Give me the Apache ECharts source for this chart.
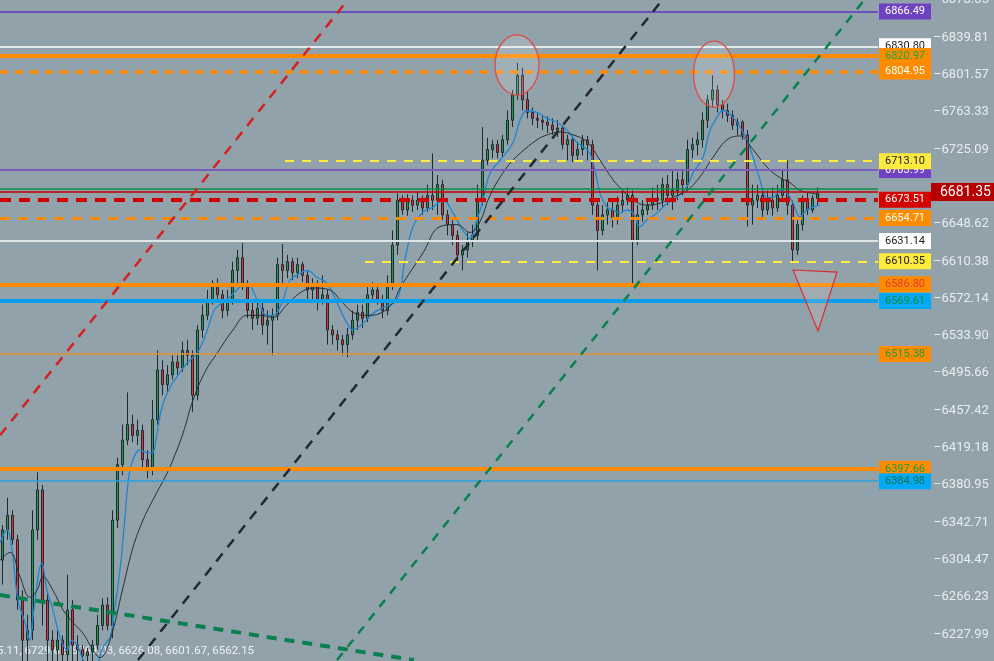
<!DOCTYPE html>
<html><head><meta charset="utf-8">
<script src="https://cdn.jsdelivr.net/npm/echarts@6/dist/echarts.min.js"></script>
<style>html,body{margin:0;padding:0;background:#92a2aa;overflow:hidden}#c{width:994px;height:661px}</style>
</head><body><div id="c"></div>
<script>
// ---- data ----
const candles = [
[6304,6335,6279,6340],[6335,6350,6325,6368],[6350,6325,6320,6355],[6325,6263,6253,6330],[6263,6222,6196,6273],
[6222,6232,6196,6248],[6232,6335,6222,6355],[6335,6376,6325,6394],[6376,6263,6237,6381],[6263,6222,6196,6273],
[6222,6212,6196,6232],[6212,6222,6196,6234],[6222,6207,6196,6227],[6207,6253,6196,6289],[6253,6217,6196,6263],
[6217,6212,6196,6227],[6212,6206,6196,6217],[6206,6210,6196,6214],[6210,6217,6196,6222],[6217,6237,6212,6248],
[6237,6258,6232,6265],[6258,6237,6232,6266],[6237,6345,6224,6355],[6345,6402,6337,6409],[6402,6427,6391,6443],
[6427,6443,6422,6476],[6443,6432,6425,6453],[6432,6437,6422,6448],[6437,6407,6396,6443],[6407,6396,6388,6417],
[6396,6448,6391,6468],[6448,6499,6443,6519],[6499,6484,6473,6509],[6484,6494,6476,6504],[6494,6507,6489,6514],
[6507,6501,6494,6514],[6501,6519,6497,6528],[6519,6514,6504,6530],[6514,6473,6456,6519],[6473,6540,6468,6545],
[6540,6555,6532,6566],[6555,6571,6550,6581],[6571,6586,6566,6591],[6586,6576,6571,6593],[6576,6560,6552,6581],
[6560,6571,6554,6581],[6571,6601,6566,6610],[6601,6614,6586,6622],[6614,6586,6581,6629],[6586,6560,6552,6591],
[6560,6552,6540,6571],[6552,6562,6545,6571],[6562,6545,6535,6568],[6545,6550,6525,6560],[6550,6555,6514,6562],
[6555,6607,6550,6614],[6607,6601,6586,6628],[6601,6610,6593,6617],[6610,6599,6591,6614],[6599,6607,6593,6614],
[6607,6596,6589,6610],[6596,6581,6571,6601],[6581,6586,6571,6593],[6586,6571,6560,6591],[6571,6576,6566,6596],
[6576,6540,6525,6581],[6540,6535,6525,6545],[6535,6530,6519,6540],[6530,6525,6514,6535],[6525,6535,6512,6542],
[6535,6550,6530,6560],[6550,6558,6540,6566],[6558,6552,6542,6566],[6552,6576,6548,6586],[6576,6581,6571,6589],
[6581,6571,6566,6585],[6571,6560,6552,6576],[6560,6586,6555,6596],[6586,6627,6581,6642],[6627,6673,6617,6680],
[6673,6663,6658,6678],[6663,6673,6657,6679],[6673,6668,6661,6678],[6668,6673,6663,6681],[6673,6665,6658,6678],
[6665,6678,6661,6689],[6678,6673,6663,6721],[6673,6689,6658,6699],[6689,6658,6653,6694],[6658,6648,6637,6663],
[6648,6637,6627,6653],[6637,6617,6610,6642],[6617,6622,6601,6627],[6622,6632,6614,6640],[6632,6637,6625,6648],
[6637,6673,6632,6689],[6673,6714,6668,6748],[6714,6725,6709,6737],[6725,6730,6716,6735],[6730,6722,6716,6735],
[6722,6735,6717,6740],[6735,6755,6730,6765],[6755,6781,6748,6786],[6781,6801,6776,6814],[6801,6776,6765,6809],
[6776,6763,6757,6784],[6763,6757,6750,6768],[6757,6755,6747,6763],[6755,6753,6745,6760],[6753,6750,6742,6759],
[6750,6745,6740,6757],[6745,6747,6738,6755],[6747,6730,6725,6750],[6730,6735,6714,6740],[6735,6719,6712,6737],
[6719,6725,6714,6733],[6725,6735,6719,6740],[6735,6730,6714,6739],[6730,6668,6658,6735],[6668,6642,6601,6675],
[6642,6658,6637,6668],[6658,6663,6648,6671],[6663,6655,6645,6673],[6655,6668,6648,6677],[6668,6673,6661,6683],
[6673,6678,6668,6686],[6678,6632,6587,6683],[6632,6658,6627,6668],[6658,6663,6651,6673],[6663,6668,6658,6675],
[6668,6675,6663,6686],[6675,6673,6663,6689],[6673,6689,6665,6696],[6689,6678,6668,6699],[6678,6683,6663,6704],
[6683,6694,6673,6702],[6694,6689,6678,6704],[6689,6725,6683,6735],[6725,6730,6716,6737],[6730,6735,6719,6743],
[6735,6755,6727,6763],[6755,6776,6747,6781],[6776,6786,6768,6801],[6786,6771,6763,6791],[6771,6765,6757,6776],
[6765,6760,6753,6772],[6760,6750,6745,6765],[6750,6753,6740,6757],[6753,6740,6735,6755],[6740,6668,6646,6745],
[6668,6673,6648,6689],[6673,6678,6665,6689],[6678,6663,6655,6683],[6663,6673,6658,6683],[6673,6665,6657,6686],
[6665,6678,6661,6689],[6678,6694,6673,6704],[6694,6668,6658,6714],[6668,6622,6610,6673],[6622,6648,6617,6655],
[6648,6673,6642,6678],[6673,6663,6658,6681],[6663,6675,6660,6678],[6675,6681.35,6668,6686]
];
const maFast = [
[-0.5,6322],[0.9,6335],[1.9,6314],[3.1,6263],[4.5,6240],[5.5,6222],[6.1,6246],[7.9,6301],[8.9,6273],[10.1,6253],
[11.5,6225],[12.9,6212],[13.9,6222],[15.1,6215],[16.1,6202],[18.1,6189],[20.1,6215],[21.5,6225],[22.5,6256],[23.5,6294],
[24.5,6348],[25.1,6383],[25.9,6404],[27.5,6417],[28.9,6414],[29.9,6414],[30.9,6434],[31.9,6461],[33.5,6481],[34.9,6492],
[36.9,6506],[38.9,6516],[40.5,6533],[42.3,6560],[43.5,6566],[45.5,6574],[47.5,6584],[48.9,6588],[50.9,6571],[52.9,6555],
[54.1,6555],[55.9,6568],[57.5,6591],[59.5,6598],[60.9,6601],[62.9,6594],[64.9,6588],[66.9,6568],[68.9,6547],[70.1,6540],
[72.1,6547],[74.1,6557],[76.1,6563],[78.9,6571],[80.5,6612],[82.1,6646],[84.1,6661],[86.1,6666],[88.1,6673],[90.1,6660],
[92.1,6642],[93.5,6634],[94.9,6653],[96.1,6673],[97.5,6701],[99.5,6714],[102.1,6732],[103.5,6755],[104.9,6765],[106.9,6763],
[108.9,6757],[110.9,6753],[112.9,6745],[114.9,6732],[116.1,6728],[117.5,6721],[118.9,6694],[119.5,6680],[120.9,6666],[122.1,6663],
[123.5,6660],[124.9,6663],[126.1,6660],[127.5,6646],[128.9,6653],[130.9,6660],[132.9,6670],[134.9,6676],[136.9,6687],[138.1,6701],
[140.1,6717],[141.5,6745],[142.9,6758],[144.1,6765],[146.1,6758],[147.5,6748],[148.9,6735],[150.1,6717],[151.5,6694],[152.9,6676],
[154.1,6676],[155.5,6683],[156.9,6680],[158.1,6670],[159.5,6656],[160.9,6663],[162.1,6666],[163.5,6668]
];
const maSlow = [
[-0.5,6304],[1.5,6312],[3.5,6287],[5.5,6266],[6.9,6273],[8.1,6287],[10.1,6273],[12.1,6253],[14.1,6240],[16.1,6229],
[18.1,6212],[19.5,6204],[21.5,6222],[24.1,6276],[26.1,6317],[28.1,6345],[30.1,6366],[32.9,6393],[34.5,6412],[36.1,6434],
[38.1,6468],[40.5,6497],[42.9,6516],[46.1,6540],[48.9,6555],[51.5,6555],[54.1,6553],[56.9,6566],[59.5,6578],[62.1,6583],
[65.5,6581],[67.5,6571],[70.1,6558],[72.9,6555],[75.5,6557],[78.1,6568],[79.5,6583],[84.1,6619],[87.5,6646],[90.9,6648],
[93.5,6640],[95.5,6651],[97.5,6678],[100.9,6707],[103.5,6721],[106.9,6735],[108.9,6740],[111.5,6743],[114.1,6740],[116.9,6733],
[119.5,6714],[122.1,6694],[123.5,6686],[126.1,6673],[128.9,6668],[131.5,6670],[134.1,6676],[136.9,6683],[139.5,6697],[142.1,6717],
[144.9,6735],[147.5,6739],[150.1,6725],[152.9,6707],[155.5,6696],[157.5,6691],[159.5,6683],[162.1,6680],[163.5,6678]
];
const yTicks = [6227.99,6266.23,6304.47,6342.71,6380.95,6419.18,6457.42,6495.66,6533.90,6572.14,6610.38,6648.62,6725.09,6763.33,6801.57,6839.81,6878.05];
const lastPrice = 6681.35;
const levels = [6866.49,6830.80,6820.97,6804.95,6703.99,6713.10,6684.60,6681.35,6673.51,6654.71,6631.14,6610.35,6586.80,6569.61,6515.38,6397.66,6384.98];
const levelFrom = [null,null,null,null,null,56.5,null,null,null,null,null,72.5,null,null,null,null,null];
const trendLines = [
  [[-0.5,6432],[69.0,6878]],
  [[27.1,6201.6],[131.9,6878]],
  [[66.9,6201.6],[172.3,6878]],
  [[-0.5,6268.2],[82.3,6201.6]]
];
const peakMarks = [[102.9,6811.7],[142.3,6802.4]];
const triangle = [[158.1,6601.5],[166.9,6599.4],[163.1,6538.9]];
const footerValues = ['5.11','6729.62','6769.03','6626.08','6601.67','6562.15'];

// ---- styles ----
const Y_MIN = 6200.6, Y_MAX = 6878.3, X_MIN = -0.5, X_MAX = 175.1;
const levelStyle = [
 {c:'#6b4fbb',w:2,t:'solid',bg:'#6f42c1',fg:'#ffffff'},
 {c:'#e4eaec',w:2,t:'solid',bg:'#ffffff',fg:'#222222'},
 {c:'#ff8a00',w:4,t:'solid',bg:'#ff8c00',fg:'#17a34a'},
 {c:'#ff8a00',w:3.5,t:[8,7],bg:'#ff8c00',fg:'#ffffff'},
 {c:'#7a5cc0',w:2,t:'solid',bg:'#6f42c1',fg:'#ffffff'},
 {c:'#ffeb3b',w:2,t:[9,8],bg:'#ffeb3b',fg:'#222222'},
 {c:'#0b8a45',w:1.5,t:'solid',bg:null},
 {c:'#c00000',w:1.5,t:'solid',bg:null},
 {c:'#d00000',w:4,t:[11,8],bg:'#d50000',fg:'#ffffff'},
 {c:'#ff8a00',w:3,t:[10,8],bg:'#ff8c00',fg:'#ffffff'},
 {c:'#dde4e7',w:2,t:'solid',bg:'#ffffff',fg:'#222222'},
 {c:'#ffeb3b',w:2,t:[9,8],bg:'#ffeb3b',fg:'#222222'},
 {c:'#ff8a00',w:4,t:'solid',bg:'#ff8c00',fg:'#e53935'},
 {c:'#0a9fec',w:4,t:'solid',bg:'#03a9f4',fg:'#0b8a3e'},
 {c:'#e0902e',w:1.5,t:'solid',bg:'#ff8c00',fg:'#1a9a4a'},
 {c:'#ff8a00',w:4,t:'solid',bg:'#ff8c00',fg:'#1a9a4a'},
 {c:'#2aa0dc',w:1.5,t:'solid',bg:'#03a9f4',fg:'#06704a'}
];
const trendStyle = [
 {c:'#d42020',w:2.5,t:[10,8]},
 {c:'#23292d',w:2.5,t:[10,8]},
 {c:'#0a7f4f',w:2.5,t:[9,8]},
 {c:'#0a7f4f',w:4,t:[10,8]}
];
const peakRadii = [[22,30],[20.5,33]];

const mlData = [];
levels.forEach((v,i)=>{
  const s = levelStyle[i];
  const label = s.bg ? {show:true, position:'end', distance:1, formatter:v.toFixed(2),
    backgroundColor:s.bg, color:s.fg, padding:[2,6,1,6], fontSize:11, lineHeight:13, fontFamily:'Roboto'} : {show:false};
  const ls = {color:s.c, width:s.w, type:s.t};
  if (levelFrom[i] != null) {
    mlData.push([{coord:[levelFrom[i], v], lineStyle:ls, label:label}, {coord:[X_MAX, v]}]);
  } else {
    mlData.push({yAxis:v, lineStyle:ls, label:label});
  }
});
trendLines.forEach((seg,i)=>{
  const s = trendStyle[i];
  mlData.push([{coord:seg[0], lineStyle:{color:s.c,width:s.w,type:s.t}, label:{show:false}}, {coord:seg[1]}]);
});

const chart = echarts.init(document.getElementById('c'), null, {renderer:'canvas'});
chart.setOption({
  animation:false,
  backgroundColor:'#92a2aa',
  textStyle:{fontFamily:'Roboto'},
  grid:{left:0,right:116,top:0,bottom:0,containLabel:false,outerBoundsMode:'none'},
  xAxis:{type:'value',min:X_MIN,max:X_MAX,show:false},
  yAxis:[{
    type:'value',position:'right',offset:55,min:Y_MIN,max:Y_MAX,
    axisLine:{show:false},splitLine:{show:false},axisTick:{show:false},
    axisLabel:{customValues:yTicks,formatter:v=>'\u2013'+v.toFixed(2),color:'#e8edef',fontSize:13,margin:0,fontFamily:'Roboto'}
  },{
    type:'value',position:'right',offset:53,min:Y_MIN,max:Y_MAX,
    axisLine:{show:false},splitLine:{show:false},axisTick:{show:false},
    axisLabel:{customValues:[lastPrice],formatter:v=>v.toFixed(2),color:'#ffffff',fontSize:14,margin:0,
      backgroundColor:'#b40000',padding:[2,6,2,9],fontFamily:'Roboto'},
    z:10
  }],
  series:[{
    type:'candlestick',
    data:candles.map((c,i)=>[i].concat(c)),
    barWidth:3,
    itemStyle:{color:'#1c9e52',color0:'#e3303a',borderColor:'#1f292e',borderColor0:'#1f292e',borderWidth:1},
    markLine:{silent:true,symbol:['none','none'],animation:false,data:mlData}
  },{
    type:'line',data:maFast,smooth:0.4,showSymbol:false,lineStyle:{color:'#1f86d4',width:1.3},z:3
  },{
    type:'line',data:maSlow,smooth:0.4,showSymbol:false,lineStyle:{color:'#2a2f33',width:1},z:3
  },{
    type:'custom',data:peakMarks,clip:false,z:5,
    renderItem:(p,api)=>{
      const c = api.coord([api.value(0),api.value(1)]);
      const r = peakRadii[p.dataIndex];
      return {type:'ellipse',shape:{cx:c[0],cy:c[1],rx:r[0],ry:r[1]},
        style:{fill:'rgba(255,255,255,0.14)',stroke:'#e04a4a',lineWidth:1.3}};
    }
  },{
    type:'custom',data:[0],clip:false,z:5,
    renderItem:(p,api)=>({type:'polygon',shape:{points:triangle.map(pt=>api.coord(pt))},
      style:{fill:'rgba(255,220,220,0.16)',stroke:'#d83030',lineWidth:1.2}})
  }],
  graphic:[{type:'text',left:-3,top:645,silent:true,
    style:{text:footerValues.join(', '),fill:'#eef2f4',font:'11.5px Roboto'}}]
});
</script></body></html>
